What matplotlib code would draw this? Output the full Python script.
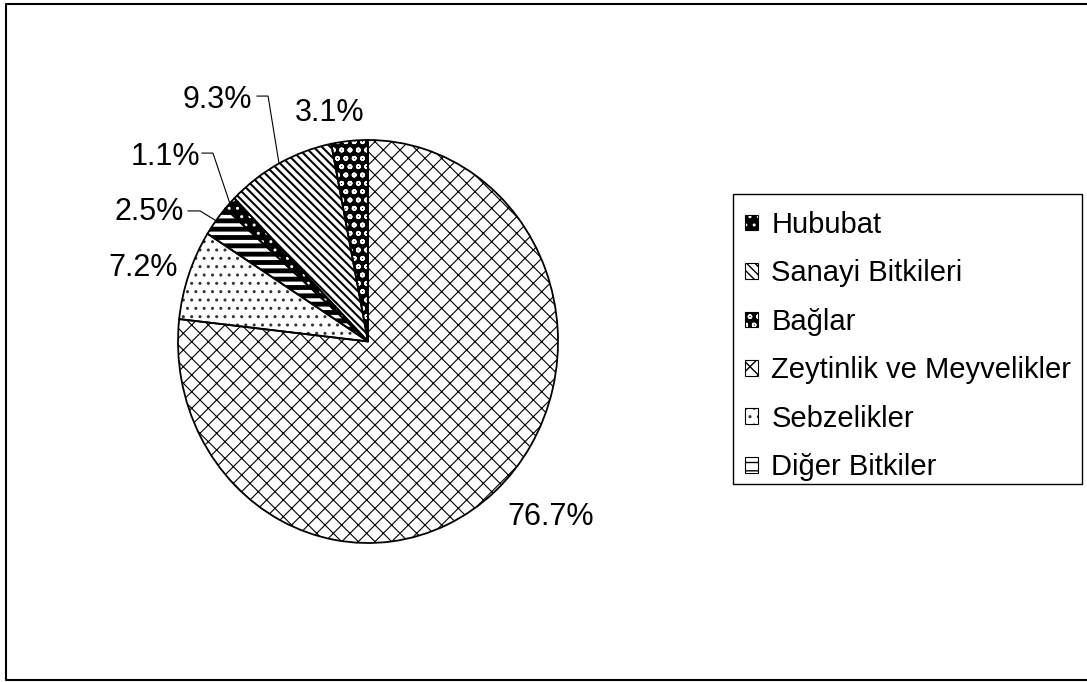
import numpy as np
import matplotlib.pyplot as plt
from matplotlib.lines import Line2D
from matplotlib.patches import Rectangle
from matplotlib.legend_handler import HandlerTuple

plt.rcParams['font.family'] = ['Liberation Sans', 'DejaVu Sans']

# data
categories = ["Hububat", "Sanayi Bitkileri", "Bağlar",
              "Zeytinlik ve Meyvelikler", "Sebzelikler", "Diğer Bitkiler"]
shares = [1.1, 9.3, 3.1, 76.7, 7.2, 2.5]
pct_labels = ["1.1%", "9.3%", "3.1%", "76.7%", "7.2%", "2.5%"]

# styles (hatch patterns in place of the Excel fills)
faces = ["black", "white", "black", "white", "white", "white"]
hatch_colors = ["white", "black", "white", "black", "#333333", "black"]
hatches = ["..", "\\\\\\\\", "oo", "xx", "..", "--"]
hatch_lws = [1.0, 1.5, 1.2, 0.8, 1.0, 3.5]

# label placement (data units, pie radius = 1)
label_pos = [(-1.068, 0.916), (-0.795, 1.199), (-0.200, 1.134),
             (0.963, -0.871), (-1.184, 0.365), (-1.153, 0.643)]
# leader elbows: (x start, x end, y) or None
leaders = [(-0.874, -0.816, 0.935), (-0.584, -0.526, 1.218), None,
           None, None, (-0.947, -0.884, 0.648)]

W, H = 1087, 682
fig = plt.figure(figsize=(W / 100, H / 100), dpi=100)

# pie is slightly taller than wide in the scan
cx, cy, sx, sy = 368, 341.5, 190, 201.5
left, right, top, bottom = 60, 700, 40, 640
ax = fig.add_axes([left / W, 1 - bottom / H, (right - left) / W, (bottom - top) / H])


def style(p, i):
    p.set_facecolor(faces[i])
    p.set_edgecolor(hatch_colors[i])
    p.set_hatch(hatches[i])
    if hasattr(p, "set_hatch_linewidth"):
        p.set_hatch_linewidth(hatch_lws[i])


start = 90 + 360 * sum(shares[:3]) / sum(shares)
wedges, _ = ax.pie(shares, startangle=start, counterclock=False,
                   wedgeprops=dict(linewidth=0))
for i, w in enumerate(wedges):
    style(w, i)

ax.pie(shares, startangle=start, counterclock=False,
       wedgeprops=dict(fill=False, edgecolor="black", linewidth=1.3))

for w, txt, (lx, ly), ld in zip(wedges, pct_labels, label_pos, leaders):
    ax.text(lx, ly, txt, ha="center", va="center", fontsize=22)
    if ld is not None:
        mid = np.deg2rad((w.theta1 + w.theta2) / 2)
        ax.plot([ld[0], ld[1], np.cos(mid)], [ld[2], ld[2], np.sin(mid)],
                color="black", lw=0.8)

ax.set_aspect("auto")
ax.set_xlim((left - cx) / sx, (right - cx) / sx)
ax.set_ylim((cy - bottom) / sy, (cy - top) / sy)
ax.axis("off")

# legend: proxy squares (fill + outline), frame drawn separately
handles = []
for i in range(len(categories)):
    fill = Rectangle((0, 0), 1, 1, linewidth=0)
    style(fill, i)
    edge = Rectangle((0, 0), 1, 1, fill=False, edgecolor="black", linewidth=0.8)
    handles.append((fill, edge))

leg = fig.legend(handles, categories,
                 handler_map={tuple: HandlerTuple(ndivide=1, pad=0)},
                 loc="upper left", bbox_to_anchor=(745 / W, 1 - 211 / H),
                 bbox_transform=fig.transFigure, borderaxespad=0, borderpad=0,
                 fontsize=21, handlelength=0.45, handleheight=0.45,
                 handletextpad=0.45, labelspacing=0.70, frameon=False)

fig.add_artist(Rectangle((733 / W, 1 - 484 / H), (1082 - 733) / W, (484 - 194) / H,
                         transform=fig.transFigure, fill=False,
                         edgecolor="black", linewidth=1.0))

# outer chart border (right side falls off the picture)
fig.add_artist(Line2D([1.0, 6 / W, 6 / W, 1.0],
                      [1 - 4 / H, 1 - 4 / H, 1 - 680 / H, 1 - 680 / H],
                      transform=fig.transFigure, color="black", lw=1.5))

plt.savefig("out.png", dpi=100)
